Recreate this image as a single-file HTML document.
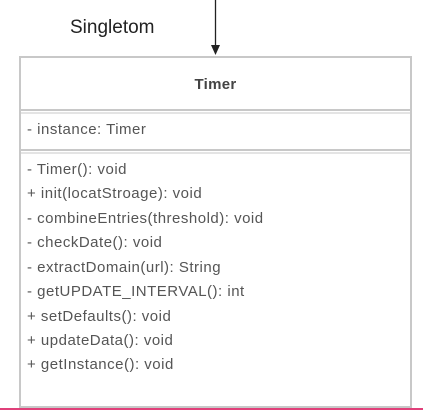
<!DOCTYPE html>
<html><head><style>
html,body{margin:0;padding:0;background:#fff;width:423px;height:410px;overflow:hidden}
</style></head><body>
<svg width="423" height="410" xmlns="http://www.w3.org/2000/svg" style="display:block">
<line x1="215.5" y1="0" x2="215.5" y2="46" stroke="#222" stroke-width="1.3"/>
<polygon points="211,45 220,45 215.5,55" fill="#222"/>
<text x="70" y="33" font-family="Liberation Sans, sans-serif" font-size="19" fill="#222">Singletom</text>
<rect x="20" y="57" width="391" height="350" fill="#fff" stroke="#c8c8c8" stroke-width="2"/>
<line x1="20" y1="110" x2="411" y2="110" stroke="#c8c8c8" stroke-width="2"/>
<line x1="20" y1="113" x2="411" y2="113" stroke="#c8c8c8" stroke-width="1"/>
<line x1="20" y1="150" x2="411" y2="150" stroke="#c8c8c8" stroke-width="2"/>
<line x1="20" y1="153" x2="411" y2="153" stroke="#c8c8c8" stroke-width="1"/>
<text x="215.5" y="89" text-anchor="middle" font-family="Liberation Sans, sans-serif" font-size="15" font-weight="bold" fill="#444" letter-spacing="0.3">Timer</text>
<g font-family="Liberation Sans, sans-serif" font-size="15" fill="#555" letter-spacing="0.5">
<text x="27" y="134">- instance: Timer</text>
<text x="27" y="174">- Timer(): void</text>
<text x="27" y="198">+ init(locatStroage): void</text>
<text x="27" y="223">- combineEntries(threshold): void</text>
<text x="27" y="247">- checkDate(): void</text>
<text x="27" y="272">- extractDomain(url): String</text>
<text x="27" y="296">- getUPDATE_INTERVAL(): int</text>
<text x="27" y="321">+ setDefaults(): void</text>
<text x="27" y="345">+ updateData(): void</text>
<text x="27" y="369">+ getInstance(): void</text>
</g>
<rect x="0" y="408" width="423" height="2" fill="#e0407a"/>
</svg>
</body></html>
